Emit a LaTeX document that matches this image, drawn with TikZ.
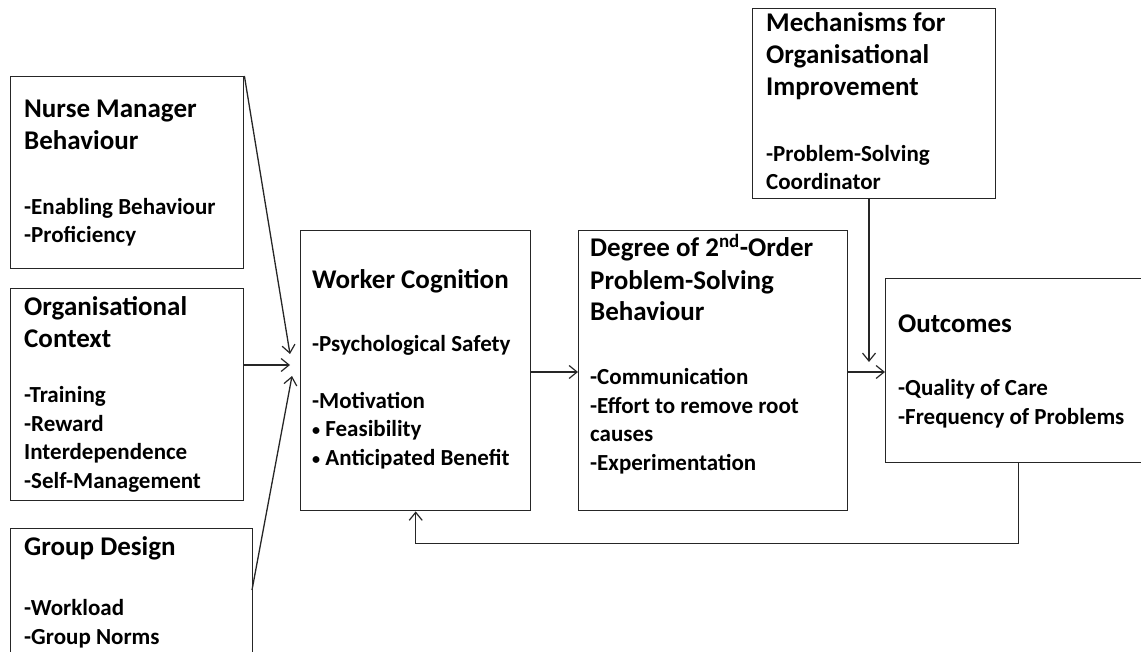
\documentclass[tikz,border=0pt]{standalone}
\usepackage{fontspec}
\setmainfont{Carlito}
\usetikzlibrary{arrows.meta}
\tikzset{
  box/.style={draw=black!85,line width=1.4pt,anchor=north west,inner sep=0pt},
  head/.style={anchor=base west,align=left,inner sep=0pt,font=\bfseries\fontsize{27}{32}\selectfont},
  body/.style={anchor=base west,align=left,inner sep=0pt,font=\bfseries\fontsize{23}{28.5}\selectfont},
  link/.style={-{Straight Barb[length=8pt,width=13pt,line width=1.2pt]},line width=1.3pt,draw=black!85}
}
\newcommand{\smallbul}{\raisebox{1pt}{\scalebox{0.7}{\textbullet}}}

\begin{document}
\begin{tikzpicture}[x=1pt,y=-1pt]
    \useasboundingbox (0,0) rectangle (1141,652);
    \clip (0,0) rectangle (1141,652);
    % boxes
    \node[box,minimum width=233pt,minimum height=192pt] (nm) at (10,76) {};
    \node[box,minimum width=233pt,minimum height=212pt] (oc) at (10,288) {};
    \node[box,minimum width=242pt,minimum height=172pt] (gd) at (10,528) {};
    \node[box,minimum width=230pt,minimum height=280pt] (wc) at (300,230) {};
    \node[box,minimum width=269pt,minimum height=280pt] (deg) at (578,230) {};
    \node[box,minimum width=243pt,minimum height=190pt] (mech) at (752,8) {};
    \node[box,minimum width=266pt,minimum height=184pt] (out) at (885,278) {};
    % texts (placed at the baseline of their last line)
    \node[head] (nmhead) at (24,150) {Nurse Manager\\Behaviour};
    \node[body] (nmbody) at (24,243) {-Enabling Behaviour\\-Proficiency};
    \node[head] (ochead) at (24,348) {Organisational\\Context};
    \node[body] (ocbody) at (24,488) {-Training\\-Reward\\Interdependence\\-Self-Management};
    \node[head] (gdhead) at (24,555) {Group Design};
    \node[body] (gdbody) at (24,644) {-Workload\\-Group Norms};
    \node[head] (wchead) at (312,289) {Worker Cognition};
    \node[body] (wcbody) at (312,465) {-Psychological Safety\\[28.5pt]-Motivation\\\smallbul\ Feasibility\\\smallbul\ Anticipated Benefit};
    \node[head] (deghead) at (590,321) {Degree of 2\textsuperscript{nd}-Order\\Problem-Solving\\Behaviour};
    \node[body] (degbody) at (590,470) {-Communication\\-Effort to remove root\\causes\\-Experimentation};
    \node[head] (mechhead) at (766,96) {Mechanisms for\\Organisational\\Improvement};
    \node[body] (mechbody) at (766,190) {-Problem-Solving\\Coordinator};
    \node[head] (outhead) at (898,333) {Outcomes};
    \node[body] (outbody) at (898,424) {-Quality of Care\\-Frequency of Problems};
    % connector ends
    \coordinate (ocout) at (243,365);
    \coordinate (gdout) at (252,590);
    \coordinate (in1) at (290,354);
    \coordinate (in2) at (290,365);
    \coordinate (in3) at (292,376);
    \coordinate (mechout) at (869,198);
    \coordinate (mechin) at (869,362);
    % connectors
    \draw[link] (nm.north east) -- (in1);
    \draw[link] (ocout) -- (in2);
    \draw[link] (gdout) -- (in3);
    \draw[link] (wc.east |- 0,372) -- (deg.west |- 0,372);
    \draw[link] (deg.east |- 0,372) -- (out.west |- 0,372);
    \draw[link] (mechout) -- (mechin);
    \draw[link] (out.south) -- ++(0,80) -| (wc.south);
\end{tikzpicture}
\end{document}
